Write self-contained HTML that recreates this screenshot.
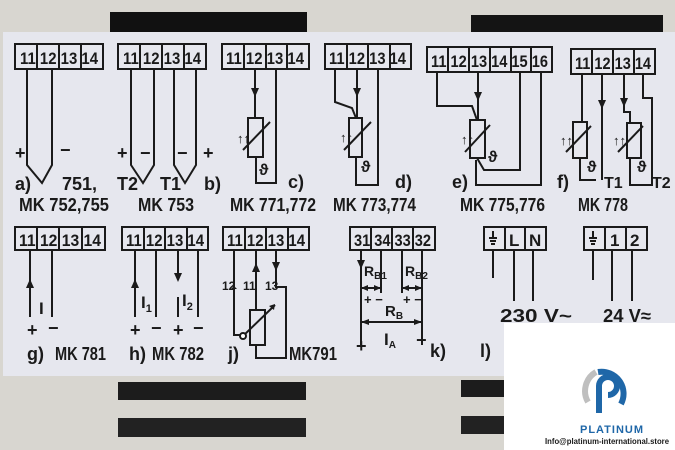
<!DOCTYPE html>
<html><head><meta charset="utf-8"><style>
html,body{margin:0;padding:0;width:675px;height:450px;overflow:hidden;background:#d9d7d1}
svg{display:block}
text{font-family:"Liberation Sans",sans-serif;font-weight:bold;fill:#1a1a1a}
</style></head><body>
<svg width="675" height="450" viewBox="0 0 675 450" xmlns="http://www.w3.org/2000/svg">
<rect width="675" height="450" fill="#d8d6d0"/>
<rect x="110" y="12" width="197" height="20" fill="#111"/>
<rect x="471" y="15" width="192" height="18" fill="#141414"/>
<!-- label -->
<rect x="3" y="32" width="672" height="344" fill="#e6e7ee"/>
<!-- slots -->
<rect x="118" y="382" width="188" height="18" fill="#1c1c1c"/>
<rect x="118" y="418" width="188" height="19" fill="#222"/>
<rect x="461" y="380" width="45" height="17" fill="#1c1c1c"/>
<rect x="461" y="416" width="45" height="18" fill="#222"/>

<g stroke="#1a1a1a" stroke-width="2" fill="none">
<!-- row1 boxes -->
<rect x="15" y="44" width="88" height="25"/><path d="M37 44V69M59 44V69M81 44V69"/>
<rect x="118" y="44" width="88" height="25"/><path d="M140 44V69M162 44V69M184 44V69"/>
<rect x="222" y="44" width="87" height="25"/><path d="M244 44V69M266 44V69M287 44V69"/>
<rect x="325" y="44" width="86" height="25"/><path d="M347 44V69M368 44V69M390 44V69"/>
<rect x="427" y="47" width="125" height="25"/><path d="M448 47V72M469 47V72M490 47V72M511 47V72M531 47V72"/>
<rect x="571" y="49" width="84" height="25"/><path d="M592 49V74M613 49V74M634 49V74"/>
<!-- row2 boxes -->
<rect x="15" y="227" width="90" height="23"/><path d="M37 227V250M59 227V250M82 227V250"/>
<rect x="122" y="227" width="86" height="23"/><path d="M144 227V250M165 227V250M187 227V250"/>
<rect x="223" y="227" width="86" height="23"/><path d="M245 227V250M266 227V250M288 227V250"/>
<rect x="350" y="227" width="85" height="23"/><path d="M371 227V250M392 227V250M413 227V250"/>
<rect x="484" y="227" width="62" height="23"/><path d="M505 227V250M525 227V250"/>
<rect x="584" y="227" width="63" height="23"/><path d="M605 227V250M626 227V250"/>

<!-- a -->
<path d="M27 69V165L42 183L52 165V69"/>
<!-- b -->
<path d="M131 69V165L143 183L154 165V69M174 69V165L185 183L196 165V69"/>
<!-- c -->
<path d="M255 69V118M276 69V183H256V157"/><rect x="248" y="118" width="15" height="39"/><path d="M243 150L270 122"/>
<!-- d -->
<path d="M335 69V102L352 108L356 118M357 69V118M378 69V185H356V157"/><rect x="349" y="118" width="13" height="39"/><path d="M344 150L371 122"/>
<!-- e -->
<path d="M437 72V106H472L477 120M478 72V120M520 72V170H484L477 158M541 72V185H476V160"/><rect x="470" y="120" width="15" height="38"/><path d="M465 152L490 125"/>
<!-- f -->
<path d="M582 74V122M580 158V180H596M602 74V180M624 74V112H630V123M643 74V98H652V185H630V158"/><rect x="573" y="122" width="14" height="36"/><rect x="627" y="123" width="14" height="35"/><path d="M566 152L591 126M618 152L643 126"/>
<!-- g -->
<path d="M30 250V317M52 250V317"/>
<!-- h -->
<path d="M135 250V317M156 250V317M178 250V280M178 297V317M198 250V317"/>
<!-- j -->
<path d="M234 250V335H240M256 250V310M256 345V358H286V287H276V250"/><rect x="250" y="310" width="15" height="35"/><path d="M242 337L275 305"/><circle cx="243" cy="336" r="3" fill="#fff"/>
<!-- k -->
<path d="M361 250V345M381 250V293M402 250V293M422 250V345M361 288H381M402 288H422M361 322H422"/>
<!-- l -->
<path d="M493 250V278M514 250V301M533 250V301M593 250V280M612 250V301M632 250V301"/>
<path d="M489 238H497M490 241H496M491 244H495M493 231V238M589 238H597M590 241H596M591 244H595M593 231V238"/>
</g>
<!-- arrowheads -->
<g fill="#1a1a1a">
<path d="M251 88h8l-4 9z"/><path d="M353 88h8l-4 9z"/><path d="M474 92h8l-4 9z"/><path d="M598 100h8l-4 9z"/><path d="M620 98h8l-4 9z"/>
<path d="M26 288h8l-4-9z"/><path d="M131 288h8l-4-9z"/><path d="M174 273h8l-4 9z"/>
<path d="M252 272h8l-4-9z"/><path d="M272 262h8l-4 9z"/><path d="M237 289h-6l3-3z"/>
<path d="M357 260h8l-4 9z"/>
<path d="M361 288l7-3v6zM381 288l-7-3v6zM402 288l7-3v6zM422 288l-7-3v6zM361 322l8-3v6zM422 322l-8-3v6z"/>
<path d="M269 306l6-2-1 6z"/>
</g>
<g font-size="17">
<text x="20" y="64" textLength="78" lengthAdjust="spacingAndGlyphs">11 12 13 14</text>
<text x="123" y="64" textLength="78" lengthAdjust="spacingAndGlyphs">11 12 13 14</text>
<text x="226" y="64" textLength="78" lengthAdjust="spacingAndGlyphs">11 12 13 14</text>
<text x="329" y="64" textLength="77" lengthAdjust="spacingAndGlyphs">11 12 13 14</text>
<text x="431" y="67" textLength="117" lengthAdjust="spacingAndGlyphs">11 12 13 14 15 16</text>
<text x="575" y="69" textLength="76" lengthAdjust="spacingAndGlyphs">11 12 13 14</text>
<text x="19" y="246" textLength="82" lengthAdjust="spacingAndGlyphs">11 12 13 14</text>
<text x="126" y="246" textLength="78" lengthAdjust="spacingAndGlyphs">11 12 13 14</text>
<text x="227" y="246" textLength="78" lengthAdjust="spacingAndGlyphs">11 12 13 14</text>
<text x="354" y="246" textLength="77" lengthAdjust="spacingAndGlyphs">31 34 33 32</text>
<text x="509" y="246">L</text><text x="529" y="246">N</text>
<text x="610" y="246">1</text><text x="630" y="246">2</text>
</g>
<g font-size="18">
<text x="15" y="159">+</text><text x="60" y="156">−</text>
<text x="15" y="190">a)</text><text x="62" y="190">751,</text>
<text x="19" y="211" textLength="90" lengthAdjust="spacingAndGlyphs">MK 752,755</text>
<text x="117" y="159">+</text><text x="140" y="159">−</text><text x="177" y="159">−</text><text x="203" y="159">+</text>
<text x="117" y="190">T2</text><text x="160" y="190">T1</text><text x="204" y="190">b)</text>
<text x="138" y="211" textLength="56" lengthAdjust="spacingAndGlyphs">MK 753</text>
<text x="288" y="188">c)</text>
<text x="230" y="211" textLength="86" lengthAdjust="spacingAndGlyphs">MK 771,772</text>
<text x="395" y="188">d)</text>
<text x="333" y="211" textLength="83" lengthAdjust="spacingAndGlyphs">MK 773,774</text>
<text x="452" y="188">e)</text>
<text x="460" y="211" textLength="85" lengthAdjust="spacingAndGlyphs">MK 775,776</text>
<text x="557" y="188">f)</text><text x="604" y="188" font-size="16">T1</text><text x="652" y="188" font-size="16">T2</text>
<text x="578" y="211" textLength="50" lengthAdjust="spacingAndGlyphs">MK 778</text>
<text x="27" y="336">+</text><text x="48" y="334">−</text>
<text x="27" y="360">g)</text><text x="55" y="360" textLength="51" lengthAdjust="spacingAndGlyphs">MK 781</text>
<text x="130" y="336">+</text><text x="151" y="334">−</text><text x="173" y="336">+</text><text x="193" y="334">−</text>
<text x="129" y="360">h)</text><text x="152" y="360" textLength="52" lengthAdjust="spacingAndGlyphs">MK 782</text>
<text x="228" y="360">j)</text><text x="289" y="360" textLength="48" lengthAdjust="spacingAndGlyphs">MK791</text>
<text x="356" y="352">+</text><text x="416" y="346">−</text><text x="430" y="357">k)</text>
<text x="480" y="357">l)</text>
<text x="500" y="322" textLength="72" lengthAdjust="spacingAndGlyphs">230 V~</text>
<text x="603" y="322" textLength="48" lengthAdjust="spacingAndGlyphs">24 V≈</text>
</g>
<g font-size="13">
<text x="237" y="143">↑↑</text><text x="340" y="142">↑↑</text><text x="461" y="144">↑↑</text><text x="560" y="145">↑↑</text><text x="613" y="145">↑↑</text>
<text x="259" y="175" font-size="16">ϑ</text><text x="361" y="172" font-size="16">ϑ</text><text x="488" y="162" font-size="16">ϑ</text><text x="587" y="172" font-size="16">ϑ</text><text x="637" y="172" font-size="16">ϑ</text>
<text x="39" y="314" font-family="Liberation Serif" font-size="17">I</text>
<text x="141" y="308" font-family="Liberation Serif" font-size="17">I<tspan font-size="11" dy="4">1</tspan></text>
<text x="182" y="306" font-family="Liberation Serif" font-size="17">I<tspan font-size="11" dy="4">2</tspan></text>
<text x="222" y="290" font-size="12">12</text><text x="243" y="290" font-size="12">11</text><text x="265" y="290" font-size="12">13</text>
<text x="364" y="276" font-size="14">R<tspan font-size="10" dy="3">B1</tspan></text>
<text x="405" y="276" font-size="14">R<tspan font-size="10" dy="3">B2</tspan></text>
<text x="364" y="304" font-size="13">+ −</text><text x="403" y="304" font-size="13">+ −</text>
<text x="385" y="316" font-size="15">R<tspan font-size="10" dy="3">B</tspan></text>
<text x="384" y="345" font-family="Liberation Serif" font-size="17">I<tspan font-size="10" dy="3" font-family="Liberation Sans">A</tspan></text>
</g>
<!-- platinum -->
<rect x="504" y="323" width="171" height="127" fill="#fff"/>
<path d="M588 402a22 22 0 0 1 8-30" stroke="#bfbfbf" stroke-width="6" fill="none"/>
<path d="M599 413v-27a9 9 0 1 1 9 9" stroke="#1f67a8" stroke-width="6" fill="none"/>
<path d="M598 372a22 22 0 0 1 23 32" stroke="#1f67a8" stroke-width="6" fill="none"/>
<text x="580" y="433" font-size="11" fill="#1f67a8" style="fill:#1f67a8;letter-spacing:1px">PLATINUM</text>
<text x="545" y="444" font-size="8.5" textLength="124" lengthAdjust="spacingAndGlyphs">Info@platinum-international.store</text>
</svg>
</body></html>
